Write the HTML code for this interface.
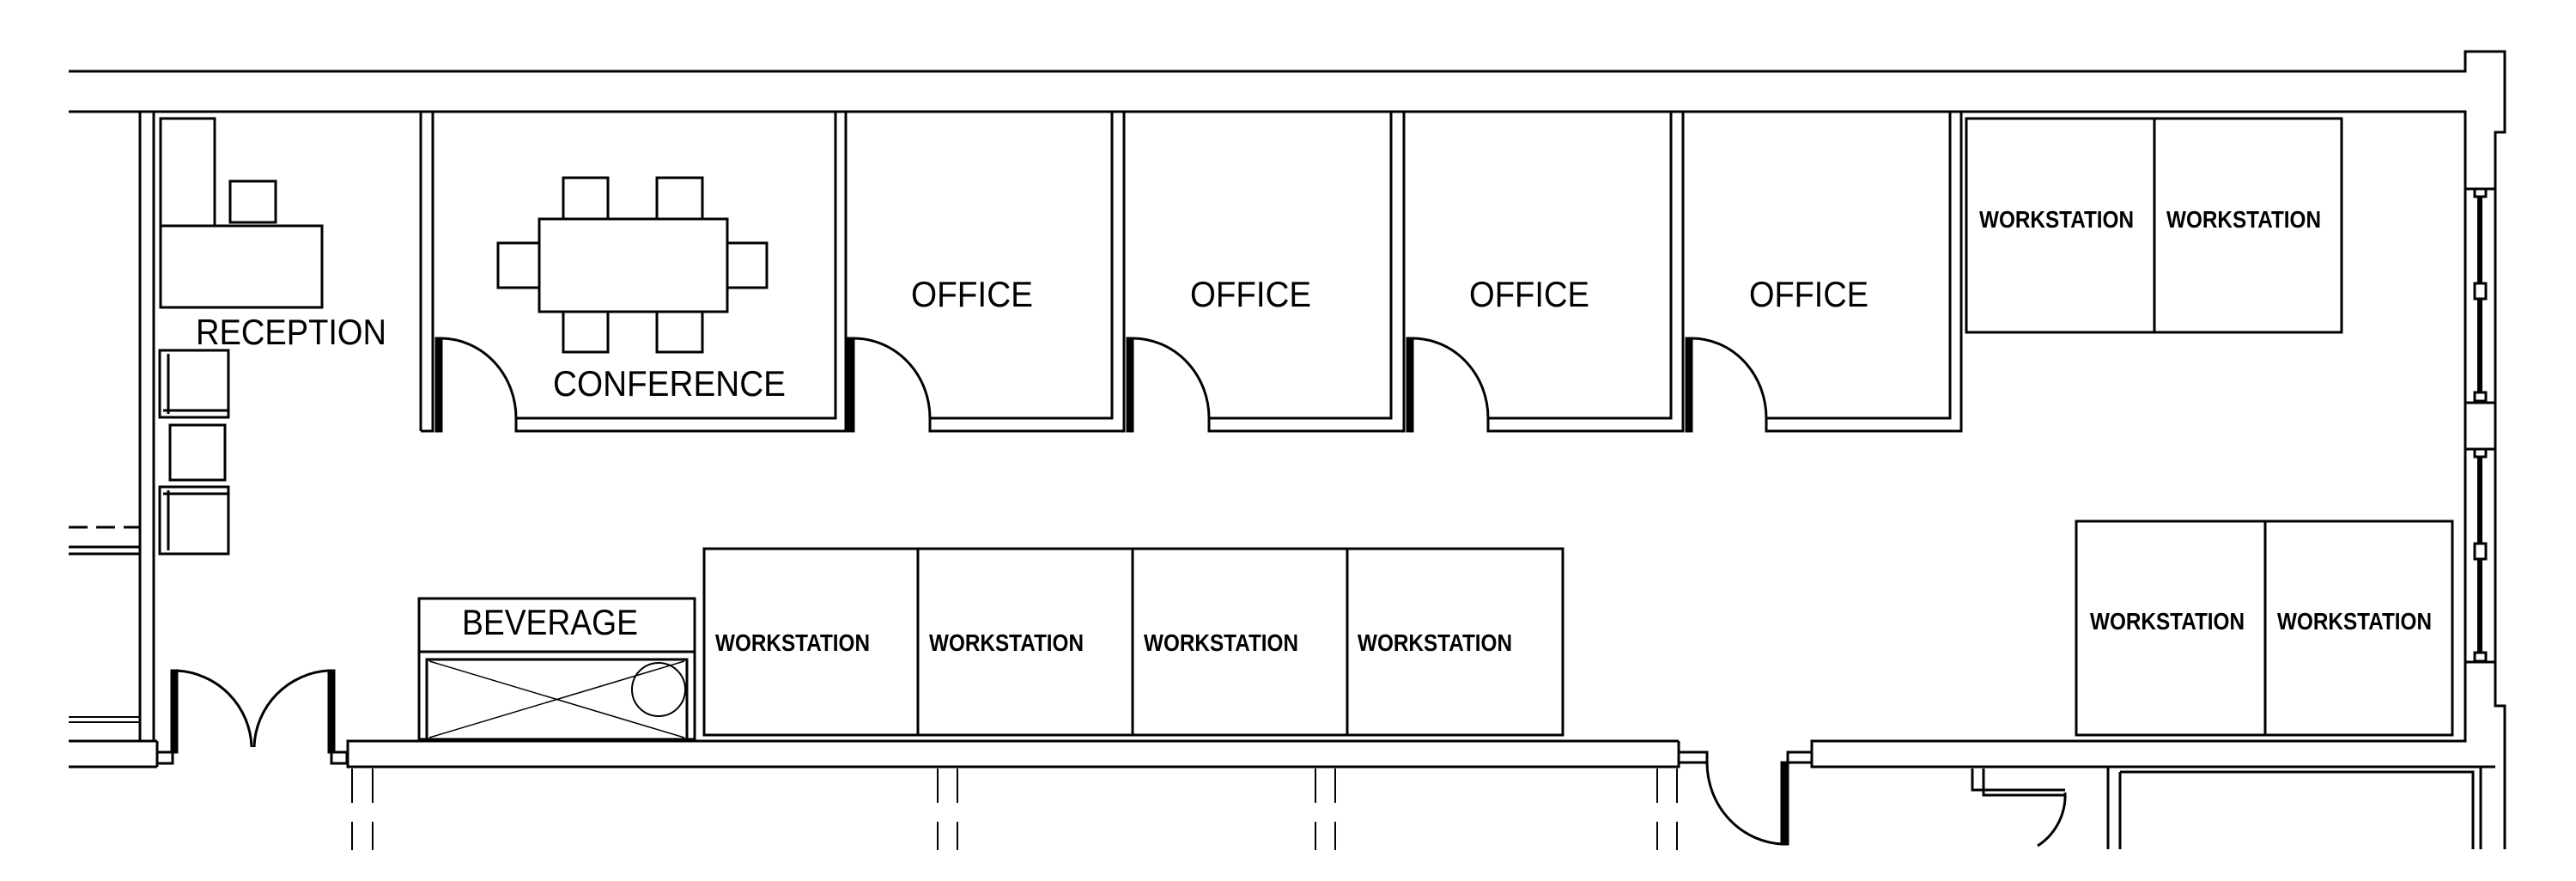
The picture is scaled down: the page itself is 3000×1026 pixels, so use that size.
<!DOCTYPE html>
<html><head><meta charset="utf-8"><style>html,body{margin:0;padding:0;background:#fff}svg{display:block}
text{font-family:"Liberation Sans",sans-serif;fill:#000}
.l{font-size:42px}.w{font-size:28px;font-weight:bold}</style></head><body>
<svg width="3000" height="1026" viewBox="0 0 3000 1026" xmlns="http://www.w3.org/2000/svg">
<g fill="none" stroke="#000" stroke-width="3">
<!-- outer top wall -->
<polyline points="80,83 2871,83 2871,60 2917,60 2917,154 2906,154 2906,822 2917,822 2917,989"/>
<polyline points="80,130 2871,130 2871,863 2110,863 2110,893 2906,893"/>
<!-- left wall -->
<rect x="163" y="130" width="16" height="733"/>
<line x1="80" y1="614" x2="163" y2="614" stroke-dasharray="22,10"/>
<line x1="80" y1="637" x2="163" y2="637"/><line x1="80" y1="645" x2="163" y2="645"/>
<line x1="80" y1="835" x2="163" y2="835" stroke-width="2"/><line x1="80" y1="841" x2="163" y2="841" stroke-width="2"/>
<line x1="80" y1="863" x2="183" y2="863"/><line x1="80" y1="893" x2="183" y2="893"/>
<line x1="183" y1="863" x2="183" y2="893"/>
<rect x="183" y="876" width="18" height="13"/><rect x="386" y="876" width="18" height="13"/>
<!-- double door -->
<rect x="200" y="781" width="6" height="95" fill="#000"/><rect x="383" y="781" width="6" height="95" fill="#000"/>
<path d="M206,781 A92,92 0 0 1 293,870"/><path d="M383,781 A92,92 0 0 0 296,870"/>
<!-- bottom wall -->
<polyline points="1955,863 405,863 405,893 1955,893 1955,863"/>
<rect x="1955" y="876" width="33" height="12"/><rect x="2082" y="876" width="28" height="12"/>
<rect x="2075" y="888" width="7" height="95" fill="#000"/>
<path d="M1988,888 A92,95 0 0 0 2077,983"/>
<polyline points="2297,895 2297,920 2405,920"/><polyline points="2310,895 2310,926 2405,926"/>
<path d="M2405,923 A70,70 0 0 1 2373,985"/>
<line x1="2455" y1="893" x2="2455" y2="989"/><line x1="2469" y1="899" x2="2469" y2="989"/>
<polyline points="2469,899 2880,899 2880,989"/><line x1="2889" y1="893" x2="2889" y2="989"/>
<!-- dashed verticals -->
<g stroke-width="2" stroke-dasharray="40,22">
<line x1="410" y1="895" x2="410" y2="990"/><line x1="434" y1="895" x2="434" y2="990"/>
<line x1="1092" y1="895" x2="1092" y2="990"/><line x1="1115" y1="895" x2="1115" y2="990"/>
<line x1="1532" y1="895" x2="1532" y2="990"/><line x1="1555" y1="895" x2="1555" y2="990"/>
<line x1="1930" y1="895" x2="1930" y2="990"/><line x1="1953" y1="895" x2="1953" y2="990"/>
</g>
<!-- reception -->
<rect x="187" y="138" width="63" height="125"/><rect x="268" y="211" width="53" height="48"/>
<rect x="187" y="263" width="188" height="95"/>
<rect x="186" y="408" width="80" height="78"/><line x1="196" y1="412" x2="196" y2="482"/><line x1="190" y1="478" x2="266" y2="478"/>
<rect x="198" y="495" width="64" height="64"/>
<rect x="186" y="567" width="80" height="78"/><line x1="196" y1="571" x2="196" y2="641"/><line x1="190" y1="575" x2="266" y2="575"/>
<!-- conference -->
<polyline points="490,502 490,130 504,130 504,502 490,502"/>
<polyline points="601,487 973,487 973,130 985,130 985,502 601,502 601,487"/>
<rect x="508" y="394" width="6" height="108" fill="#000"/>
<path d="M514,394 A88,93 0 0 1 601,487"/>
<rect x="628" y="255" width="219" height="108"/>
<rect x="656" y="207" width="52" height="48"/><rect x="765" y="207" width="53" height="48"/>
<rect x="656" y="363" width="52" height="47"/><rect x="765" y="363" width="53" height="47"/>
<rect x="580" y="283" width="48" height="52"/><rect x="847" y="283" width="46" height="52"/>
<!-- offices -->
<g>
<rect x="988" y="394" width="6" height="108" fill="#000"/><path d="M994,394 A89,93 0 0 1 1083,487"/>
<polyline points="1083,487 1295,487 1295,130 1309,130 1309,502 1083,502 1083,487"/>
<rect x="1313" y="394" width="6" height="108" fill="#000"/><path d="M1319,394 A89,93 0 0 1 1408,487"/>
<polyline points="1408,487 1620,487 1620,130 1635,130 1635,502 1408,502 1408,487"/>
<rect x="1639" y="394" width="6" height="108" fill="#000"/><path d="M1645,394 A88,93 0 0 1 1733,487"/>
<polyline points="1733,487 1946,487 1946,130 1960,130 1960,502 1733,502 1733,487"/>
<rect x="1964" y="394" width="6" height="108" fill="#000"/><path d="M1970,394 A87,93 0 0 1 2057,487"/>
<polyline points="2057,487 2271,487 2271,130 2284,130 2284,502 2057,502 2057,487"/>
</g>
<!-- beverage -->
<rect x="488" y="697" width="321" height="164"/><line x1="488" y1="759" x2="809" y2="759"/>
<rect x="497" y="768" width="303" height="93"/>
<line x1="500" y1="770" x2="797" y2="859" stroke-width="1.5"/><line x1="500" y1="859" x2="797" y2="770" stroke-width="1.5"/>
<circle cx="767" cy="803" r="31" stroke-width="2"/>
<!-- workstations -->
<rect x="820" y="639" width="1000" height="217"/>
<line x1="1069" y1="639" x2="1069" y2="856"/><line x1="1319" y1="639" x2="1319" y2="856"/><line x1="1569" y1="639" x2="1569" y2="856"/>
<rect x="2290" y="138" width="437" height="249"/><line x1="2509" y1="138" x2="2509" y2="387"/>
<rect x="2418" y="607" width="438" height="249"/><line x1="2638" y1="607" x2="2638" y2="856"/>
<!-- windows -->
<line x1="2871" y1="220" x2="2906" y2="220"/><line x1="2871" y1="469" x2="2906" y2="469"/>
<line x1="2871" y1="523" x2="2906" y2="523"/><line x1="2871" y1="771" x2="2906" y2="771"/>
<line x1="2888" y1="225" x2="2888" y2="465" stroke-width="6"/><line x1="2888" y1="528" x2="2888" y2="766" stroke-width="6"/>
<rect x="2882" y="220" width="13" height="9" fill="#fff"/><rect x="2882" y="330" width="13" height="18" fill="#fff"/><rect x="2882" y="457" width="13" height="10" fill="#fff"/>
<rect x="2882" y="523" width="13" height="9" fill="#fff"/><rect x="2882" y="633" width="13" height="18" fill="#fff"/><rect x="2882" y="760" width="13" height="10" fill="#fff"/>
</g>
<text class="l" x="228" y="401" textLength="222" lengthAdjust="spacingAndGlyphs">RECEPTION</text>
<text class="l" x="644" y="461" textLength="271" lengthAdjust="spacingAndGlyphs">CONFERENCE</text>
<text class="l" x="1061" y="357" textLength="142" lengthAdjust="spacingAndGlyphs">OFFICE</text>
<text class="l" x="1386" y="357" textLength="141" lengthAdjust="spacingAndGlyphs">OFFICE</text>
<text class="l" x="1711" y="357" textLength="140" lengthAdjust="spacingAndGlyphs">OFFICE</text>
<text class="l" x="2037" y="357" textLength="139" lengthAdjust="spacingAndGlyphs">OFFICE</text>
<text class="l" x="538" y="739" textLength="205" lengthAdjust="spacingAndGlyphs">BEVERAGE</text>
<g class="w">
<text class="w" x="833" y="758" textLength="180" lengthAdjust="spacingAndGlyphs">WORKSTATION</text>
<text class="w" x="1082" y="758" textLength="180" lengthAdjust="spacingAndGlyphs">WORKSTATION</text>
<text class="w" x="1332" y="758" textLength="180" lengthAdjust="spacingAndGlyphs">WORKSTATION</text>
<text class="w" x="1581" y="758" textLength="180" lengthAdjust="spacingAndGlyphs">WORKSTATION</text>
<text class="w" x="2305" y="265" textLength="180" lengthAdjust="spacingAndGlyphs">WORKSTATION</text>
<text class="w" x="2523" y="265" textLength="180" lengthAdjust="spacingAndGlyphs">WORKSTATION</text>
<text class="w" x="2434" y="733" textLength="180" lengthAdjust="spacingAndGlyphs">WORKSTATION</text>
<text class="w" x="2652" y="733" textLength="180" lengthAdjust="spacingAndGlyphs">WORKSTATION</text>
</g>
</svg>
</body></html>
